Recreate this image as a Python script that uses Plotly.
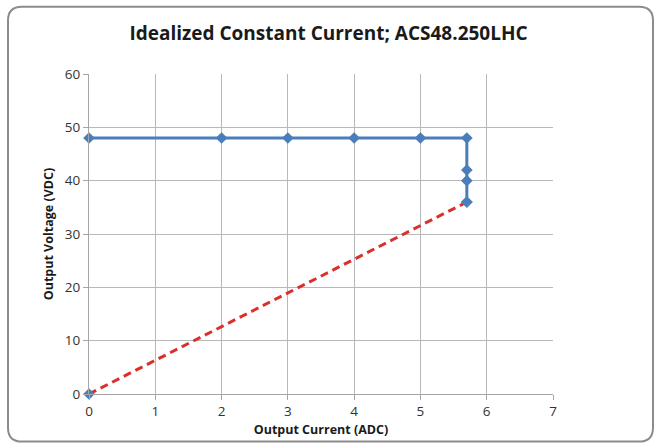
import plotly.graph_objects as go

# Data
cc_current = [0, 2, 3, 4, 5, 5.7, 5.7, 5.7, 5.7]
cc_voltage = [48, 48, 48, 48, 48, 48, 42, 40, 36]
load_current = [0, 5.7]
load_voltage = [0, 36]
x_ticks = [0, 1, 2, 3, 4, 5, 6, 7]
y_ticks = [0, 10, 20, 30, 40, 50, 60]

W, H = 657, 447
L, R, T, B = 89, 553, 74, 397

BLUE = "#4a7ebb"

fig = go.Figure()
fig.add_trace(go.Scatter(
    x=load_current, y=load_voltage, mode="lines+markers",
    line=dict(color="#d9302c", width=3, dash="8px,5px"),
    marker=dict(symbol="diamond", size=9, color=BLUE),
    cliponaxis=False, showlegend=False, hoverinfo="skip"))
fig.add_trace(go.Scatter(
    x=cc_current, y=cc_voltage, mode="lines+markers",
    line=dict(color=BLUE, width=3),
    marker=dict(symbol="diamond", size=9, color=BLUE),
    cliponaxis=False, showlegend=False))

def P(px, py):
    a, b = (px - L) / (R - L), (B - py) / (B - T)
    return f"{a:.5f},{b:.5f}"

# rounded border path (pixel positions converted to paper coords)
x0, y0, x1, y1, r = 8, 6, 653, 445, 14
path = (f"M {P(x0 + r, y0)} L {P(x1 - r, y0)} Q {P(x1, y0)} {P(x1, y0 + r)} "
        f"L {P(x1, y1 - r)} Q {P(x1, y1)} {P(x1 - r, y1)} "
        f"L {P(x0 + r, y1)} Q {P(x0, y1)} {P(x0, y1 - r)} "
        f"L {P(x0, y0 + r)} Q {P(x0, y0)} {P(x0 + r, y0)} Z")
fig.add_shape(type="path", path=path, xref="paper", yref="paper",
              line=dict(color="#8c8c8c", width=2), layer="below")

axis_common = dict(
    showgrid=True, gridcolor="#b8b8b8", gridwidth=1,
    showline=True, linecolor="#a6a6a6", linewidth=1,
    ticks="outside", ticklen=5, tickcolor="#a6a6a6",
    tickfont=dict(family="Open Sans", size=13.5, color="#333333"),
    zeroline=False, fixedrange=True,
)

fig.update_layout(
    width=W, height=H,
    margin=dict(l=L, r=W - R, t=T, b=H - B),
    paper_bgcolor="white", plot_bgcolor="white",
    title=dict(text="<b>Idealized Constant Current; ACS48.250LHC</b>",
               x=0.5, xref="container", y=1 - 33 / H, yref="container",
               xanchor="center", yanchor="middle",
               font=dict(family="Open Sans", size=19, color="#1a1a1a")),
    xaxis=dict(range=[0, 7], tickvals=x_ticks, ticktext=[str(v) for v in x_ticks],
               title=dict(text="<b>Output Current (ADC)</b>", standoff=6,
                          font=dict(family="Open Sans", size=12.5, color="#1a1a1a")),
               **axis_common),
    yaxis=dict(range=[0, 60], tickvals=y_ticks, ticktext=[str(v) for v in y_ticks],
               title=dict(text="<b>Output Voltage (VDC)</b>", standoff=8,
                          font=dict(family="Open Sans", size=12.5, color="#1a1a1a")),
               **axis_common),
)

fig.write_html("out.html", config={"displayModeBar": False},
               post_script="document.body.style.margin='0';")
